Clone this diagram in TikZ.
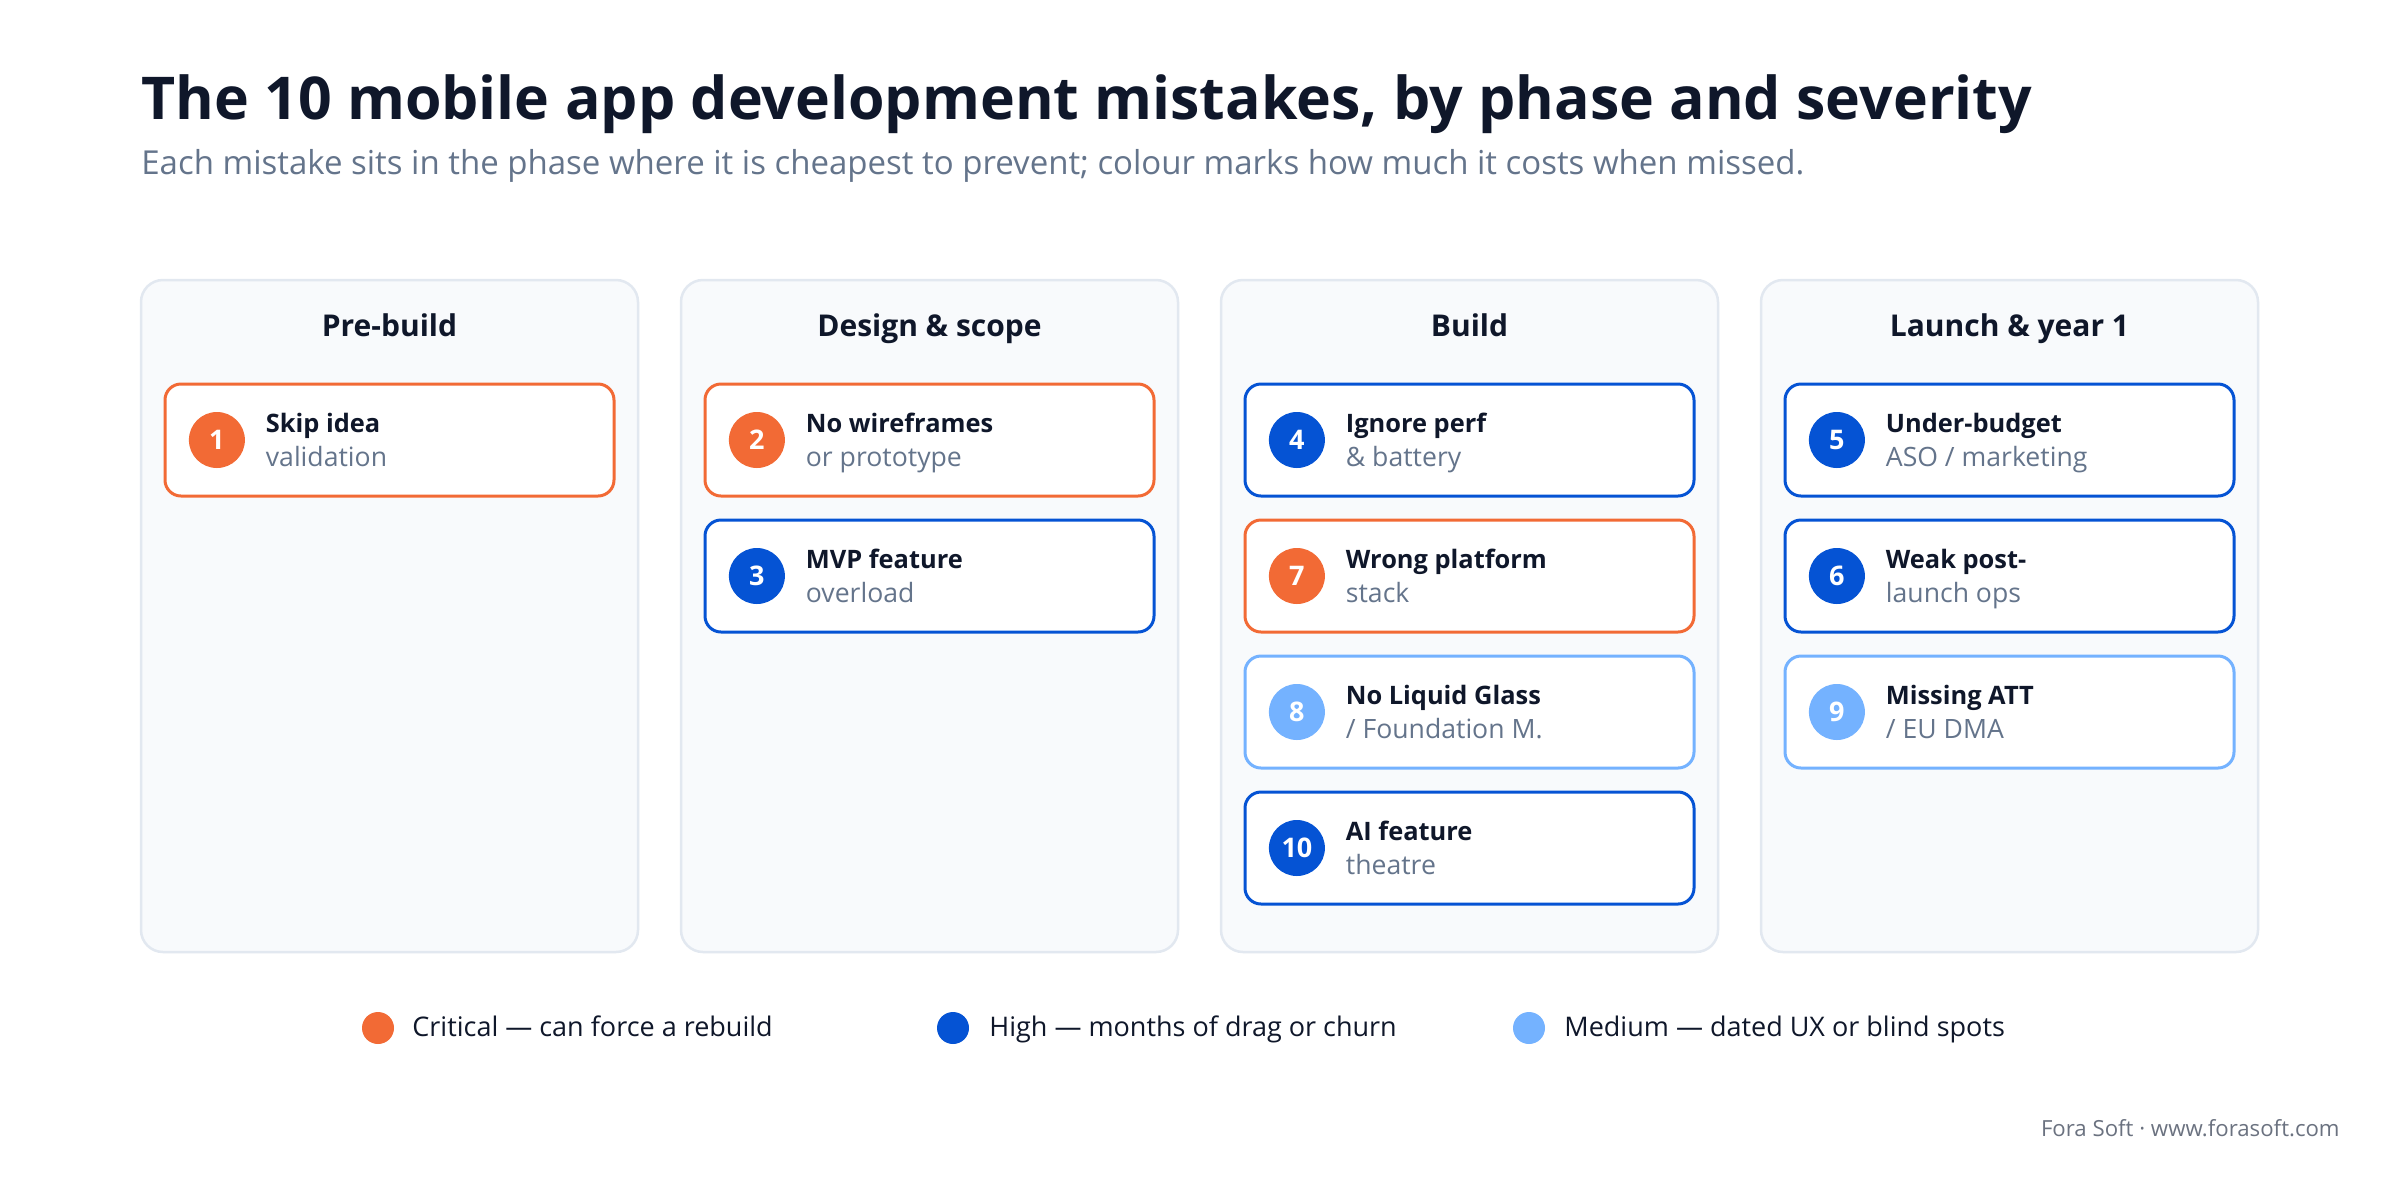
\documentclass[tikz,border=0pt]{standalone}
\usepackage{fontspec}
\setmainfont{Open Sans}
\usepackage{xcolor}
\usetikzlibrary{positioning}

\definecolor{crit}{HTML}{F26A35}
\definecolor{high}{HTML}{0553D4}
\definecolor{med}{HTML}{74B2FF}
\definecolor{ink}{HTML}{0F172A}
\definecolor{slate}{HTML}{64748B}
\definecolor{panelbg}{HTML}{F8FAFC}
\definecolor{panelline}{HTML}{E2E8F0}
\definecolor{foot}{HTML}{6B7280}

\begin{document}
\begin{tikzpicture}[x=0.5pt,y=-0.5pt,
  panel/.style={draw=panelline,line width=1.25pt,fill=panelbg,rounded corners=11pt,
    minimum width=248.5pt,minimum height=336pt,inner sep=0pt},
  card/.style={draw=#1,line width=1.5pt,fill=white,rounded corners=8pt,
    minimum width=224.5pt,minimum height=56pt,inner sep=0pt},
  badge/.style={circle,fill=#1,minimum size=28pt,inner sep=0pt,text=white,
    font=\fontsize{13.5}{13.5}\selectfont\bfseries},
  head/.style={anchor=base,text=ink,inner sep=0pt,font=\fontsize{15}{15}\selectfont\bfseries},
  ttl/.style={anchor=base west,text=ink,inner sep=0pt,font=\fontsize{12.7}{12.7}\selectfont\bfseries},
  sub/.style={anchor=base west,text=slate,inner sep=0pt,font=\fontsize{13.3}{13.3}\selectfont},
  key/.style={circle,fill=#1,minimum size=16pt,inner sep=0pt},
  keytext/.style={anchor=base west,text=ink,inner sep=0pt,font=\fontsize{13.5}{13.5}\selectfont}]
		\useasboundingbox[fill=white] (0,0) rectangle (2400,1180);
		\node[anchor=base west,inner sep=0pt,text=ink,font=\fontsize{29.5}{29.5}\selectfont\bfseries] (title) at (141,119) {The 10 mobile app development mistakes, by phase and severity};
		\node[anchor=base west,inner sep=0pt,text=slate,font=\fontsize{16.5}{16.5}\selectfont] (subtitle) at (141,174) {Each mistake sits in the phase where it is cheapest to prevent; colour marks how much it costs when missed.};
		\foreach \p/\x/\name in {1/389.5/Pre-build,2/929.5/Design \& scope,3/1469.5/Build,4/2009.5/Launch \& year 1}{
		\node[panel] (p\p) at (\x,616) {};
		\node[head] (h\p) at (\x,336) {\name};
		}
		\foreach \n/\col/\x/\y/\a/\b in {1/crit/389.5/440/Skip idea/validation,
		2/crit/929.5/440/No wireframes/or prototype,
		3/high/929.5/576/MVP feature/overload,
		4/high/1469.5/440/Ignore perf/\& battery,
		7/crit/1469.5/576/Wrong platform/stack,
		8/med/1469.5/712/No Liquid Glass/{/ Foundation M.},
		10/high/1469.5/848/AI feature/theatre,
		5/high/2009.5/440/Under-budget/{ASO / marketing},
		6/high/2009.5/576/Weak post-/launch ops,
		9/med/2009.5/712/Missing ATT/{/ EU DMA}}{
		\node[card=\col] (c\n) at (\x,\y) {};
		\node[badge=\col,right=12.5pt of c\n.west] (b\n) {\n};
		\node[ttl] (t\n) at ([xshift=51pt,yshift=4pt]c\n.west) {\a};
		\node[sub] (s\n) at ([xshift=51pt,yshift=-13pt]c\n.west) {\b};
		}
		\node[key=crit] (k1) at (378,1028) {};
		\node[keytext] (l1) at (412,1036) {Critical --- can force a rebuild};
		\node[key=high] (k2) at (953,1028) {};
		\node[keytext] (l2) at (989,1036) {High --- months of drag or churn};
		\node[key=med] (k3) at (1529,1028) {};
		\node[keytext] (l3) at (1564,1036) {Medium --- dated UX or blind spots};
		\node[anchor=base east,inner sep=0pt,text=foot,font=\fontsize{11.1}{11.1}\selectfont] (credit) at (2340,1136) {Fora Soft · www.forasoft.com};
\end{tikzpicture}
\end{document}
